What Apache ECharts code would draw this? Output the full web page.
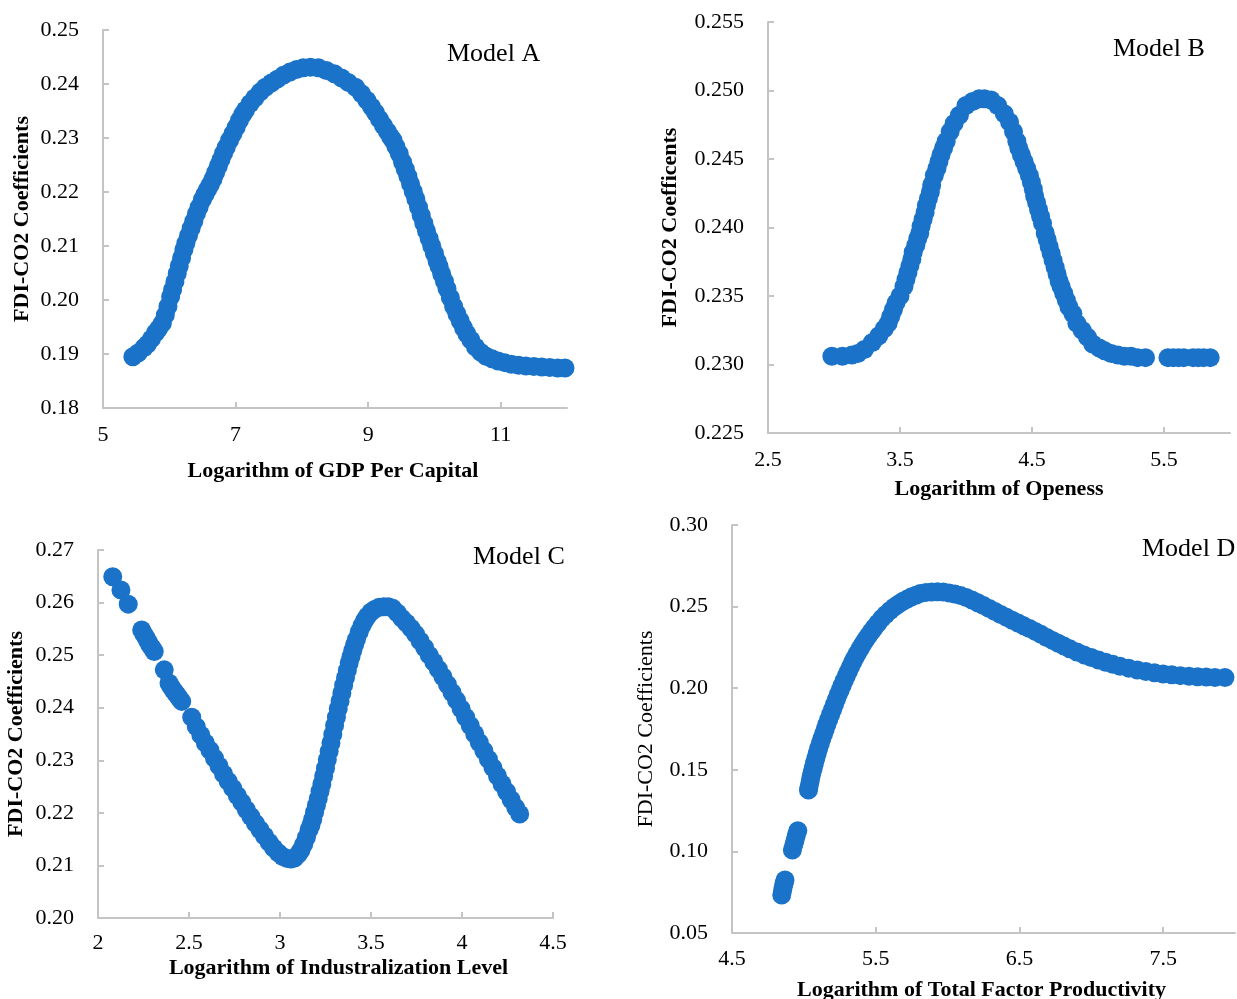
<!DOCTYPE html>
<html>
<head>
<meta charset="utf-8">
<script src="https://cdn.jsdelivr.net/npm/echarts@6/dist/echarts.min.js"></script>
<style>
html,body{margin:0;padding:0;background:#fff;}
#c{width:1237px;height:999px;}
</style>
</head>
<body>
<div id="c"></div>
<script>
// Model A: log GDP per capita vs FDI-CO2 coefficient
const modelA = [
[5.45,.1895],[5.53,.1902],[5.62,.1912],[5.67,.1918],[5.73,.1928],[5.79,.1939],[5.84,.1947],[5.895,.1957],
[5.94,.1972],[5.98,.1988],[6.02,.2006],[6.05,.2019],[6.085,.2034],[6.12,.2049],[6.15,.2063],[6.185,.2078],
[6.22,.2093],[6.25,.2105],[6.29,.2119],[6.33,.2133],[6.37,.2146],[6.41,.2160],[6.45,.2172],[6.50,.2186],
[6.54,.2196],[6.58,.2205],[6.62,.2214],[6.66,.2224],[6.70,.2236],[6.74,.2248],[6.78,.2260],[6.82,.2272],
[6.86,.2283],[6.91,.2296],[6.96,.2308],[7.01,.2320],[7.06,.2333],[7.11,.2344],[7.15,.2352],[7.22,.2364],
[7.29,.2374],[7.37,.2385],[7.45,.2394],[7.54,.2402],[7.63,.2409],[7.72,.2416],[7.82,.2422],[7.92,.2427],
[8.02,.2430],[8.13,.2431],[8.25,.2430],[8.37,.2425],[8.49,.2419],[8.60,.2411],[8.70,.2403],[8.81,.2394],
[8.90,.2382],[8.98,.2370],[9.05,.2358],[9.11,.2347],[9.17,.2335],[9.23,.2323],[9.29,.2312],[9.34,.2302],
[9.375,.2296],[9.42,.2284],[9.47,.2271],[9.52,.2255],[9.56,.2242],[9.60,.2229],[9.64,.2215],[9.68,.2201],
[9.72,.2187],[9.76,.2172],[9.80,.2157],[9.84,.2142],[9.88,.2128],[9.92,.2114],[9.96,.2100],[10.00,.2086],
[10.04,.2072],[10.07,.2062],[10.11,.2048],[10.15,.2035],[10.19,.2021],[10.24,.2004],[10.29,.1988],[10.34,.1974],
[10.39,.1961],[10.44,.1948],[10.49,.1937],[10.55,.1926],[10.62,.1913],[10.70,.1903],[10.78,.1896],[10.87,.1891],
[10.96,.1887],[11.06,.1884],[11.16,.1881],[11.27,.1879],[11.38,.1878],[11.50,.1877],[11.62,.1876],[11.74,.1875],
[11.86,.1874],[11.97,.1874]
];
// Model B: log openness
const modelB = [
[2.984,.2306],[3.064,.2306],[3.136,.2307],[3.18,.2308],[3.23,.2311],[3.29,.2316],[3.34,.2321],[3.38,.2326],
[3.41,.2330],[3.43,.2335],[3.45,.2340],[3.47,.2345],[3.50,.2350],[3.53,.2357],[3.545,.2362],[3.56,.2367],
[3.575,.2372],[3.59,.2377],[3.60,.2382],[3.62,.2387],[3.635,.2392],[3.65,.2396],[3.66,.2401],[3.675,.2406],
[3.69,.2411],[3.70,.2416],[3.715,.2421],[3.73,.2426],[3.74,.2431],[3.76,.2438],[3.78,.2443],[3.795,.2448],
[3.81,.2453],[3.83,.2458],[3.85,.2463],[3.88,.2470],[3.91,.2476],[3.95,.2482],[4.00,.2489],[4.05,.2492],
[4.10,.2494],[4.14,.2494],[4.19,.2493],[4.24,.2489],[4.29,.2483],[4.33,.2477],[4.36,.2470],[4.385,.2463],
[4.40,.2458],[4.42,.2453],[4.44,.2448],[4.46,.2443],[4.48,.2438],[4.495,.2433],[4.51,.2428],[4.52,.2423],
[4.535,.2418],[4.55,.2413],[4.565,.2408],[4.58,.2403],[4.60,.2396],[4.615,.2391],[4.63,.2386],[4.645,.2381],
[4.66,.2376],[4.675,.2371],[4.69,.2366],[4.705,.2361],[4.72,.2357],[4.74,.2352],[4.76,.2347],[4.78,.2342],
[4.81,.2337],[4.84,.2330],[4.88,.2325],[4.92,.2320],[4.96,.2315],[5.01,.2312],[5.05,.2310],[5.10,.2308],
[5.15,.2307],[5.20,.2306],[5.25,.2306],[5.30,.2305],[5.36,.2305],
[5.53,.2305],[5.57,.2305],[5.61,.2305],[5.65,.2305],[5.72,.2305],[5.76,.2305],[5.80,.2305],[5.85,.2305]
];
// Model C: log industrialization level
const modelC = [
[2.081,.2649],[2.126,.2624],[2.166,.2597],
[2.240,.2548],[2.252,.2540],[2.264,.2533],[2.275,.2526],[2.286,.2519],[2.298,.2513],[2.309,.2507],
[2.364,.2472],
[2.39,.2447],[2.40,.2441],[2.412,.2434],[2.424,.2429],[2.435,.2424],[2.447,.2418],[2.46,.2412],
[2.515,.2382],[2.54,.2364],[2.565,.2348],[2.59,.2333],[2.615,.2319],[2.64,.2304],[2.665,.2289],[2.69,.2274],
[2.715,.2260],[2.74,.2247],[2.765,.2233],[2.79,.2220],[2.815,.2206],[2.84,.2193],[2.865,.2180],[2.89,.2168],
[2.915,.2156],[2.94,.2144],[2.965,.2133],[2.99,.2124],[3.015,.2117],[3.04,.2113],[3.06,.2112],[3.08,.2114],
[3.10,.2121],[3.115,.2129],[3.13,.2140],[3.145,.2153],[3.16,.2168],[3.17,.2177],[3.18,.2188],[3.19,.2201],
[3.20,.2214],[3.21,.2227],[3.22,.2241],[3.23,.2255],[3.24,.2270],[3.25,.2285],[3.26,.2301],[3.27,.2317],
[3.28,.2333],[3.29,.2349],[3.30,.2366],[3.31,.2382],[3.32,.2398],[3.33,.2413],[3.34,.2428],[3.35,.2443],
[3.36,.2457],[3.37,.2471],[3.38,.2485],[3.39,.2497],[3.40,.2509],[3.41,.2520],[3.42,.2530],[3.435,.2544],
[3.45,.2556],[3.465,.2566],[3.48,.2574],[3.50,.2582],[3.52,.2587],[3.545,.2591],[3.57,.2592],[3.595,.2592],
[3.62,.2589],[3.645,.2580],[3.67,.2570],[3.695,.2561],[3.72,.2551],[3.745,.2540],[3.77,.2527],[3.795,.2514],
[3.82,.2500],[3.845,.2487],[3.87,.2473],[3.895,.2459],[3.92,.2444],[3.945,.2429],[3.97,.2414],[3.995,.2398],
[4.02,.2382],[4.045,.2366],[4.07,.2350],[4.095,.2334],[4.12,.2318],[4.145,.2302],[4.17,.2286],[4.195,.2270],
[4.22,.2255],[4.245,.2240],[4.27,.2225],[4.295,.2210],[4.317,.2198]
];
// Model D: log total factor productivity
const modelD = [
[4.846,.0733],[4.852,.0760],[4.857,.0784],[4.863,.0805],[4.869,.0825],
[4.920,.1009],[4.930,.1040],[4.939,.1070],[4.948,.1100],[4.958,.1127],
[5.032,.1376],[5.035,.1390],[5.042,.1420],[5.048,.1450],[5.056,.1480],[5.065,.1510],[5.074,.1540],[5.083,.1570],
[5.093,.1600],[5.103,.1630],[5.114,.1660],[5.125,.1690],[5.137,.1720],[5.149,.1750],[5.161,.1780],[5.174,.1810],
[5.187,.1840],[5.200,.1870],[5.213,.1900],[5.226,.1930],[5.239,.1960],[5.253,.1989],[5.267,.2018],[5.281,.2047],
[5.295,.2075],[5.310,.2103],[5.325,.2131],[5.340,.2160],[5.356,.2187],[5.372,.2213],[5.390,.2240],[5.408,.2266],
[5.427,.2293],[5.447,.2319],[5.468,.2345],[5.490,.2370],[5.515,.2398],[5.543,.2428],[5.57,.2452],[5.60,.2476],
[5.63,.2497],[5.66,.2516],[5.69,.2533],[5.72,.2547],[5.75,.2560],[5.78,.2570],[5.81,.2580],[5.85,.2587],
[5.89,.2590],[5.93,.2591],[5.97,.2589],[6.01,.2584],[6.05,.2577],[6.09,.2568],[6.13,.2556],[6.17,.2541],
[6.21,.2524],[6.25,.2506],[6.29,.2488],[6.33,.2470],[6.37,.2452],[6.41,.2434],[6.45,.2416],[6.49,.2399],
[6.53,.2382],[6.57,.2366],[6.61,.2348],[6.65,.2330],[6.69,.2311],[6.73,.2293],[6.77,.2275],[6.81,.2258],
[6.85,.2241],[6.90,.2222],[6.95,.2204],[7.00,.2188],[7.05,.2173],[7.10,.2159],[7.15,.2146],[7.20,.2135],
[7.26,.2123],[7.32,.2112],[7.38,.2102],[7.44,.2094],[7.50,.2087],[7.56,.2082],[7.62,.2077],[7.68,.2073],
[7.74,.2070],[7.80,.2068],[7.86,.2066],[7.93,.2065]
];

const xTicksA = [5, 7, 9, 11];
const xTicksB = [2.5, 3.5, 4.5, 5.5];
const xTicksC = [2, 2.5, 3, 3.5, 4, 4.5];
const xTicksD = [4.5, 5.5, 6.5, 7.5];

const panelLabels = ['Model A', 'Model B', 'Model C', 'Model D'];
const xNames = ['Logarithm of GDP Per Capital', 'Logarithm of Openess', 'Logarithm of Industralization Level', 'Logarithm of Total Factor Productivity'];
const yNames = ['FDI-CO2 Coefficients', 'FDI-CO2 Coefficents', 'FDI-CO2 Coefficients', 'FDI-CO2 Coefficients'];

const FONT = '"Liberation Serif", "Times New Roman", serif';
const AXIS_C = '#c4c4c4';
const DOT_C = '#1a73c8';

function xAxis(gi, min, max, ticks, name, gap, margin, dec, shift) {
  return {
    type: 'value', gridIndex: gi, min: min, max: max,
    name: name, nameLocation: 'middle', nameGap: gap,
    nameTextStyle: { fontFamily: FONT, fontSize: 22, fontWeight: 'bold', color: '#000',
      padding: shift > 0 ? [0, 0, 0, shift] : (shift < 0 ? [0, -shift, 0, 0] : 0) },
    axisLine: { show: true, onZero: false, lineStyle: { color: AXIS_C, width: 2 } },
    axisTick: { show: true, inside: true, length: 6, customValues: ticks, lineStyle: { color: AXIS_C, width: 2 } },
    axisLabel: { customValues: ticks, margin: margin, fontFamily: FONT, fontSize: 22, color: '#000',
      formatter: v => dec ? Number(v).toFixed(1) : String(Number(v)) },
    splitLine: { show: false }
  };
}
function yAxis(gi, min, max, interval, name, gap, dec, bold) {
  return {
    type: 'value', gridIndex: gi, min: min, max: max, interval: interval,
    name: name, nameLocation: 'middle', nameGap: gap, nameRotate: 90,
    nameTextStyle: { fontFamily: FONT, fontSize: 22, fontWeight: bold ? 'bold' : 'normal', color: '#000' },
    axisLine: { show: true, onZero: false, lineStyle: { color: AXIS_C, width: 2 } },
    axisTick: { show: true, inside: true, length: 6, lineStyle: { color: AXIS_C, width: 2 } },
    axisLabel: { margin: 24, fontFamily: FONT, fontSize: 22, color: '#000',
      formatter: v => Number(v).toFixed(dec) },
    splitLine: { show: false }
  };
}
function dots(gi, data) {
  return { type: 'scatter', xAxisIndex: gi, yAxisIndex: gi, data: data, symbol: 'circle', symbolSize: 19,
    itemStyle: { color: DOT_C, opacity: 1 }, emphasis: { disabled: true }, silent: true };
}
function label(i, left, top) {
  return { text: panelLabels[i], left: left, top: top, padding: 0,
    textStyle: { fontFamily: FONT, fontSize: 26, fontWeight: 'normal', color: '#000' } };
}

const chart = echarts.init(document.getElementById('c'), null, { renderer: 'canvas' });
chart.setOption({
  animation: false,
  backgroundColor: '#fff',
  title: [label(0, 447, 41), label(1, 1113, 36), label(2, 473, 544), label(3, 1142, 536)],
  grid: [
    { left: 103, top: 30, width: 464, height: 378, outerBoundsMode: 'none', containLabel: false },
    { left: 768, top: 22, width: 462, height: 411, outerBoundsMode: 'none', containLabel: false },
    { left: 98, top: 550, width: 455, height: 368, outerBoundsMode: 'none', containLabel: false },
    { left: 732, top: 525, width: 503, height: 408, outerBoundsMode: 'none', containLabel: false }
  ],
  xAxis: [
    xAxis(0, 5, 12, xTicksA, xNames[0], 52, 16, false, -4),
    xAxis(1, 2.5, 6, xTicksB, xNames[1], 45, 16, true, 0),
    xAxis(2, 2, 4.5, xTicksC, xNames[2], 39, 14, false, 26),
    xAxis(3, 4.5, 8, xTicksD, xNames[3], 46, 15, true, -4)
  ],
  yAxis: [
    yAxis(0, 0.18, 0.25, 0.01, yNames[0], 70, 2, true),
    yAxis(1, 0.225, 0.255, 0.005, yNames[1], 87, 3, true),
    yAxis(2, 0.20, 0.27, 0.01, yNames[2], 71, 2, true),
    yAxis(3, 0.05, 0.30, 0.05, yNames[3], 75, 2, false)
  ],
  series: [dots(0, modelA), dots(1, modelB), dots(2, modelC), dots(3, modelD)]
});
</script>
</body>
</html>
